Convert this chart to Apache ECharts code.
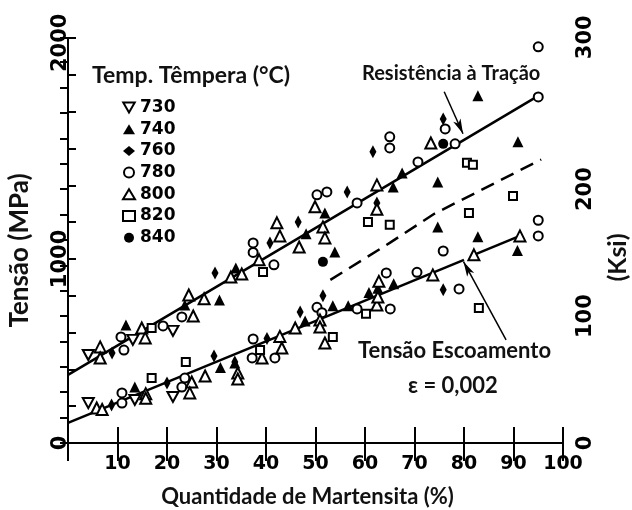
<!DOCTYPE html>
<html><head><meta charset="utf-8">
<script src="https://cdn.jsdelivr.net/npm/echarts@6/dist/echarts.min.js"></script>
<style>html,body{margin:0;padding:0;background:#fff}#c{width:632px;height:510px}</style>
</head><body><div id="c"></div>
<script>
// ---- data (x = % martensite, y = MPa) ----
const xTickLabels = [10,20,30,40,50,60,70,80,90,100];
const legendNames = ['730','740','760','780','800','820','840'];
const s730 = [[4.1,478],[13.1,560],[21.2,609],[4.1,217],[13.5,234],[21.2,250]];
const s740 = [[11.7,641],[23.6,750],[30.6,777],[33.9,951],[48.1,1136],[51.9,1250],[53.9,1038],[65.7,1391],[67.5,1467],[74.7,1418],[74.7,1174],[82.8,1886],[90.9,1636],[82.8,1120],[90.8,1046],
  [13.5,304],[30.8,410],[33.7,435],[47.9,663],[53.5,745],[56.6,745],[60.8,818],[62.6,840],[65.8,865]];
const s760 = [[8.9,489],[29.7,924],[40.8,1087],[46.5,1201],[56.4,1364],[61.6,1582],[62.4,1304],[75.8,1760],
  [8.8,207],[20,326],[29.5,473],[33.7,440],[40.2,568],[46.9,712],[51.5,800],[75.8,832]];
const s780 = [[10.7,576],[11.3,505],[19.2,636],[23,685],[37.4,1087],[37.4,1035],[41.6,968],[50.3,1348],[52.3,1364],[58.4,1304],[65,1663],[65,1603],[70.7,1527],[76.2,1706],[78.2,1625],[95,2152],[95,1880],
  [10.9,272],[10.9,217],[23,304],[23.6,353],[37.4,565],[37.2,462],[41.8,462],[50.3,737],[51.3,708],[58.4,728],[65.1,728],[64.3,924],[70.5,927],[79,837],[75.8,1043],[95,1210],[95,1125]];
const s800 = [[6.5,522],[6.5,462],[14.9,625],[15.6,571],[25.3,690],[24.4,804],[27.5,783],[32.9,902],[35.1,918],[38.6,995],[42.2,1196],[42.8,1125],[46.7,1065],[49.9,1283],[51.5,1174],[51.9,1114],[62.4,1402],[62.4,1270],[73.3,1630],
  [5.8,190],[6.9,182],[15.7,268],[15.7,243],[25,331],[24.6,272],[27.7,364],[34.3,380],[34.3,348],[39.2,462],[42.8,579],[43.2,516],[45.9,625],[50.9,668],[50.9,630],[51.9,543],[62.4,750],[62.6,793],[62.8,878],[73.7,913],[82,1022],[91.3,1125]];
const s820 = [[16.9,625],[39.4,929],[60.6,1201],[65,1185],[80.6,1522],[81.8,1511],[89.9,1342],[81,1250],
  [16.9,353],[23.8,440],[38.8,505],[53.5,576],[60.2,702],[83,734]];
const s840 = [[51.5,984],[75.8,1625]];
const tensileLine = [[0,370],[95,1886]];
const yieldLine = [[0,109],[80,995]];
const yieldLine2 = [[82,1022],[91.3,1125]];
const dashedLine = [[53,886],[65,1087],[74,1245],[95.6,1540]];
const tensileArrow = [[76,1908],[79.8,1680]];
const yieldArrow = [[88.5,560],[79.9,985]];

const MPA_PER_KSI = 6.894757;
const MPA_MAX = 2200;

const numFont = {fontFamily:'DejaVu Sans', fontWeight:'bold', color:'#000'};
const txtFont = {fontFamily:'Lato', fontWeight:'bold', color:'#111'};
const blackLine = {color:'#000', width:2};
const DOWN_TRI = 'path://M0,0L10,0L5,8.7Z';

const chart = echarts.init(document.getElementById('c'), null, {renderer:'canvas'});

function lineSeries(data, dashed, extra) {
  return Object.assign({
    type:'line', data, showSymbol:false, symbol:'none', silent:true, z:1,
    lineStyle:{color:'#000', width:2.5, type: dashed ? [14,8] : 'solid'}
  }, extra || {});
}
function scatter(name, data, symbol, size, filled) {
  return {
    type:'scatter', name, data, symbol, symbolSize:size, z:3,
    itemStyle: filled ? {color:'#000', borderWidth:0, opacity:1}
                      : {color:'#fff', borderColor:'#000', borderWidth:2, opacity:1}
  };
}
const arrowML = (pts) => ({
  silent:true, symbol:['none','arrow'], symbolSize:[6,15], label:{show:false},
  lineStyle:{color:'#000', width:1.5, type:'solid'},
  data:[[{coord:pts[0]},{coord:pts[1]}]]
});

const option = {
  animation:false,
  backgroundColor:'#fff',
  grid:{left:68, right:69, top:38, bottom:67, outerBoundsMode:'none', containLabel:false},
  xAxis:[
    {type:'value', min:0, max:100, interval:10, position:'bottom',
     axisLine:{lineStyle:blackLine}, axisTick:{inside:true, length:16, lineStyle:blackLine},
     splitLine:{show:false},
     axisLabel:Object.assign({margin:12, fontSize:19, formatter:v => xTickLabels.includes(v) ? String(v) : ''}, numFont),
     name:'Quantidade de Martensita (%)', nameLocation:'middle', nameGap:43,
     nameTextStyle:Object.assign({fontSize:22, padding:[0,16,0,0]}, txtFont)},
    {type:'value', min:0, max:100, interval:10, position:'top',
     axisLine:{lineStyle:blackLine}, axisTick:{inside:true, length:18, lineStyle:blackLine},
     splitLine:{show:false}, axisLabel:{show:false}}
  ],
  yAxis:[
    {type:'value', min:0, max:MPA_MAX, interval:200, position:'left',
     axisLine:{lineStyle:blackLine}, axisTick:{inside:true, length:8, lineStyle:blackLine},
     splitLine:{show:false},
     axisLabel:Object.assign({rotate:90, margin:-3, fontSize:21,
        formatter:v => v===2000 ? '{t|2000}' : (v%1000===0 ? String(v) : ''),
        rich:{t:Object.assign({fontSize:21, padding:[0,0,0,64]}, numFont)}}, numFont),
     name:'Tensão (MPa)', nameLocation:'middle', nameRotate:90, nameGap:35,
     nameTextStyle:Object.assign({fontSize:26, padding:[0,20,0,0]}, txtFont)},
    {type:'value', min:0, max:MPA_MAX/MPA_PER_KSI, interval:20, position:'right',
     axisLine:{lineStyle:blackLine}, axisTick:{inside:true, length:8, lineStyle:blackLine},
     splitLine:{show:false},
     axisLabel:Object.assign({rotate:90, margin:12, fontSize:21,
        formatter:v => v===300 ? '{t|300}' : (Math.abs(v%100)<1e-9 ? String(v) : ''),
        rich:{t:Object.assign({fontSize:21, padding:[0,0,0,50]}, numFont)}}, numFont),
     name:'(Ksi)', nameLocation:'middle', nameRotate:90, nameGap:42,
     nameTextStyle:Object.assign({fontSize:25, padding:[0,34,0,0]}, txtFont)}
  ],
  legend:{
    data:legendNames, orient:'vertical', left:122, top:99, padding:0,
    itemWidth:12, itemHeight:10, itemGap:4.7, selectedMode:false,
    textStyle:Object.assign({fontSize:17, lineHeight:17}, numFont)
  },
  graphic:[
    {type:'text', left:92, top:64, style:{text:'Temp. Têmpera (°C)', font:'bold 23px Lato', fill:'#111'}},
    {type:'text', left:362, top:64, style:{text:'Resistência à Tração', font:'bold 20px Lato', fill:'#111'}},
    {type:'text', left:358, top:340, style:{text:'Tensão Escoamento', font:'bold 22px Lato', fill:'#111'}},
    {type:'text', left:408, top:375, style:{text:'ε = 0,002', font:'bold 22px Lato', fill:'#111'}}
  ],
  series:[
    lineSeries(tensileLine, false, {markLine:arrowML(tensileArrow)}),
    lineSeries(yieldLine, false, {markLine:arrowML(yieldArrow)}),
    lineSeries(yieldLine2, false),
    lineSeries(dashedLine, true),
    scatter('730', s730, DOWN_TRI, [11,10], false),
    scatter('740', s740, 'triangle', 11, true),
    scatter('760', s760, 'diamond', [7,13], true),
    scatter('780', s780, 'circle', 9, false),
    scatter('800', s800, 'triangle', 11, false),
    scatter('820', s820, 'rect', 8, false),
    scatter('840', s840, 'circle', 10, true)
  ]
};
chart.setOption(option);
</script></body></html>
